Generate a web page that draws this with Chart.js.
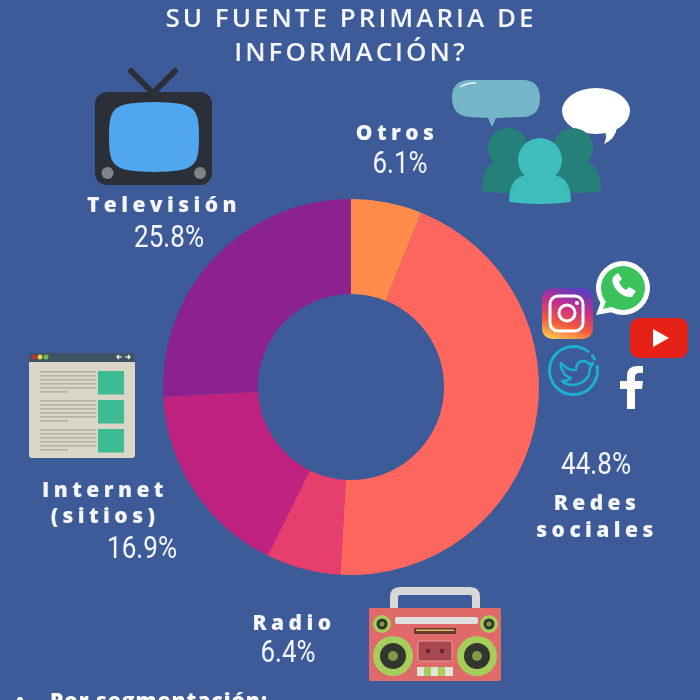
<!DOCTYPE html>
<html>
<head>
<meta charset="utf-8">
<script src="https://cdn.jsdelivr.net/npm/chart.js@4"></script>
<style>
  html, body { margin: 0; padding: 0; background: #3d5a99; }
  #wrap { position: relative; width: 700px; height: 700px; overflow: hidden; background: #3d5a99; }
  #chart { position: absolute; left: 0; top: 0; }
  #overlay { position: absolute; left: 0; top: 0; }
  .title { font: 600 26px "Open Sans", sans-serif; letter-spacing: 3px; fill: #f4f6fb; text-anchor: middle; }
  .name { font: 800 21px "Open Sans", sans-serif; letter-spacing: 4.4px; fill: #f4f6fb; text-anchor: middle; }
  .pct { font: 400 32px Roboto, sans-serif; fill: #f4f6fb; text-anchor: middle; }
  .foot { font: 800 21px "Open Sans", sans-serif; letter-spacing: 1px; fill: #fff; }
</style>
</head>
<body>
<div id="wrap">
  <canvas id="chart" width="700" height="700"></canvas>
  <svg id="overlay" width="700" height="700" viewBox="0 0 700 700"></svg>
</div>
<script>
const categories = ['Otros', 'Redes sociales', 'Radio', 'Internet (sitios)', 'Televisión'];
const shares = [6.1, 44.8, 6.4, 16.9, 25.8];
const sliceColors = ['#ff8c4a', '#ff665e', '#e63f6e', '#c0227f', '#8b2290'];
const titleLines = ['SU FUENTE PRIMARIA DE', 'INFORMACIÓN?'];

// label placement: name lines (x, y baseline) and percent (x, y baseline), same order as categories
const labelSpots = [
  { lines: [['Otros', 397, 140]], pct: [400, 173] },
  { lines: [['Redes', 597, 510], ['sociales', 597, 537]], pct: [596, 474] },
  { lines: [['Radio', 294, 630]], pct: [288, 662] },
  { lines: [['Internet', 105, 497], ['(sitios)', 105, 523]], pct: [142, 558] },
  { lines: [['Televisión', 164, 212]], pct: [169, 247] }
];

new Chart(document.getElementById('chart'), {
  type: 'doughnut',
  data: {
    labels: categories,
    datasets: [{ data: shares, backgroundColor: sliceColors, borderWidth: 0 }]
  },
  options: {
    responsive: false,
    animation: false,
    cutout: '49.5%',
    layout: { padding: { left: 163, right: 161, top: 199, bottom: 125 } },
    plugins: { legend: { display: false }, tooltip: { enabled: false } }
  }
});

function renderLabels() {
  let s = titleLines.map((t, i) => `<text class="title" x="351" y="${27 + i * 34}">${t}</text>`).join('');
  labelSpots.forEach((l, i) => {
    s += l.lines.map(n => `<text class="name" x="${n[1]}" y="${n[2]}">${n[0]}</text>`).join('');
    const txt = shares[i].toFixed(1) + '%';
    // the original figures use a condensed face, so squeeze Roboto to the same width
    s += `<text class="pct" x="${l.pct[0]}" y="${l.pct[1]}" textLength="${txt.length === 5 ? 70 : 55}" lengthAdjust="spacingAndGlyphs">${txt}</text>`;
  });
  s += `<circle cx="20" cy="700" r="3" fill="#fff"/>`;
  s += `<text class="foot" x="50" y="708">Por segmentación:</text>`;
  return s;
}

// ---- decorative icons ----
function tvIcon() {
  return `
  <path d="M131 71 L153 93 L175 71" fill="none" stroke="#2b2f38" stroke-width="6" stroke-linecap="round" stroke-linejoin="round"/>
  <rect x="95" y="92" width="117" height="93" rx="12" fill="#2b2f38"/>
  <path d="M109 137 C109 106 114 103 154 102 C194 103 199 106 199 137 C199 168 194 171 154 172 C114 171 109 168 109 137Z" fill="#50a6ef"/>
  <circle cx="107.5" cy="173" r="6" fill="#7f8489"/>
  <circle cx="200" cy="173" r="6" fill="#7f8489"/>`;
}

function peopleIcon() {
  const person = (x, y, r, w, top, bottom, c) => `
    <circle cx="${x}" cy="${y}" r="${r}" fill="${c}"/>
    <path d="M${x - w} ${bottom} Q${x - w} ${top} ${x - w * 0.35} ${top} L${x + w * 0.35} ${top} Q${x + w} ${top} ${x + w} ${bottom} Q${x} ${bottom + 4} ${x - w} ${bottom}Z" fill="${c}"/>`;
  return `
  <path d="M468 80 L524 80 Q540 81 540 98 Q540 117 522 117 L496 118 L492 127 L488 118 L470 117 Q452 116 452 98 Q452 81 468 80Z" fill="#74b6c8"/>
  <path d="M460 87 Q466 83 476 83" fill="none" stroke="#e8f4f8" stroke-width="1.5"/>
  <ellipse cx="596" cy="111" rx="34" ry="23" fill="#fff"/>
  <path d="M604 128 L617 128 Q615 139 604 144 Q608 137 604 128Z" fill="#fff"/>
  ${person(508, 148, 20, 26, 162, 191, '#26807a')}
  ${person(573, 148, 20, 28, 162, 191, '#26807a')}
  ${person(540, 160, 22, 31, 175, 202, '#3dbdbb')}`;
}

function socialIcons() {
  return `
  <defs>
    <linearGradient id="ig" x1="0.3" y1="1" x2="0.6" y2="0">
      <stop offset="0" stop-color="#fdc14d"/><stop offset="0.3" stop-color="#f0583c"/>
      <stop offset="0.65" stop-color="#c62e8c"/><stop offset="1" stop-color="#5a3fc0"/>
    </linearGradient>
  </defs>
  <rect x="542" y="288" width="51" height="51" rx="10" fill="url(#ig)"/>
  <rect x="550" y="296" width="33" height="35" rx="8" fill="none" stroke="#fff" stroke-width="3"/>
  <circle cx="567" cy="313" r="8" fill="none" stroke="#fff" stroke-width="3"/>
  <circle cx="577" cy="303" r="2" fill="#fff"/>
  <circle cx="623" cy="288" r="27" fill="#fff"/>
  <path d="M596 315 L603 296 L618 311Z" fill="#fff"/>
  <circle cx="623" cy="288" r="22" fill="#3cc25a"/>
  <path d="M603 309 L608 296 L615 306Z" fill="#3cc25a"/>
  <path d="M614 276 Q610 280 615 288 Q622 298 632 297 L636 291 L629 287 L626 290 Q621 287 619 282 L622 279 L618 273 Z" fill="#fff"/>
  <rect x="630" y="318" width="58" height="40" rx="9" fill="#e62117"/>
  <path d="M653 329 L669 338 L653 347Z" fill="#fff"/>
  <circle cx="573.5" cy="370.5" r="24" fill="none" stroke="#1aafd0" stroke-width="3" stroke-linecap="round" stroke-dasharray="132 6 4 9" transform="rotate(-10 573.5 370.5)"/>
  <path d="M561 363 Q568 371 576 370 Q576 362 583 361 Q587 361 589 364 L593 363 L590 368 Q590 382 574 385 Q566 385 562 381 Q568 381 571 378 Q564 376 563 371 Q560 368 561 363Z" fill="none" stroke="#1aafd0" stroke-width="2.5" stroke-linejoin="round"/>
  <path d="M627 409 L627 389 L620 389 L620 381 L627 381 L627 376 Q627 366 637 366 L643 366 L643 373 L639 373 Q635 373 635 377 L635 381 L643 381 L642 389 L635 389 L635 409Z" fill="#fff"/>`;
}

function browserIcon() {
  let rows = '';
  [371, 400, 429].forEach(top => {
    for (let k = 0; k < 6; k++) {
      rows += `<rect x="40" y="${top + k * 4}" width="${k === 5 ? 28 : 56}" height="1.6" fill="#b3b2a3"/>`;
    }
    rows += `<rect x="98" y="${top}" width="26" height="23.5" fill="#3dbb93"/>`;
  });
  return `
  <path d="M29 356 Q29 353 32 353 L132 353 Q135 353 135 356 L135 362 L29 362Z" fill="#3e5462"/>
  <path d="M29 362 L135 362 L135 455 Q135 458 132 458 L32 458 Q29 458 29 455Z" fill="#d9d6c5"/>
  <circle cx="34" cy="357" r="2.5" fill="#c8312f"/>
  <circle cx="40" cy="357" r="2.5" fill="#e8d23c"/>
  <circle cx="46" cy="357" r="2.5" fill="#6dbf4b"/>
  <path d="M122 357 L117 357 M119 355 L117 357 L119 359 M125 357 L130 357 M128 355 L130 357 L128 359" stroke="#fff" stroke-width="1.2" fill="none"/>
  ${rows}`;
}

function radioIcon() {
  const speaker = (x, y, a, b, c) => `
    <circle cx="${x}" cy="${y}" r="${a}" fill="#a6ce5a"/>
    <circle cx="${x}" cy="${y}" r="${b}" fill="#33352f"/>
    <circle cx="${x}" cy="${y}" r="${c}" fill="#7f9b45"/>`;
  return `
  <path d="M394 608 L394 597 Q394 591 400 591 L470 591 Q476 591 476 597 L476 608" fill="none" stroke="#d8d8d8" stroke-width="8"/>
  <rect x="369" y="608" width="132" height="73" rx="2" fill="#e06a6a"/>
  ${speaker(382, 624, 9, 5.5, 2.5)}
  ${speaker(489, 624, 9, 5.5, 2.5)}
  ${speaker(393, 656, 20, 13, 5)}
  ${speaker(477, 656, 20, 13, 5)}
  <rect x="395" y="617" width="83" height="7" rx="2" fill="#dedede"/>
  <rect x="414" y="628" width="42" height="6" fill="#6b3b32"/>
  <rect x="416" y="629.5" width="38" height="1.5" fill="#e0c060"/>
  <rect x="418" y="641" width="34" height="20" rx="2" fill="#a8474f" stroke="#eb9a9a" stroke-width="1"/>
  <circle cx="428" cy="651" r="2.2" fill="#5a2a2e"/>
  <circle cx="442" cy="651" r="2.2" fill="#5a2a2e"/>
  <rect x="417" y="667" width="36" height="9" fill="#e4e4d8"/>
  <rect x="424" y="667" width="7" height="9" fill="#a6ce5a"/>
  <rect x="438" y="667" width="7" height="9" fill="#a6ce5a"/>`;
}

document.getElementById('overlay').innerHTML =
  tvIcon() + peopleIcon() + socialIcons() + browserIcon() + radioIcon() + renderLabels();
</script>
</body>
</html>
